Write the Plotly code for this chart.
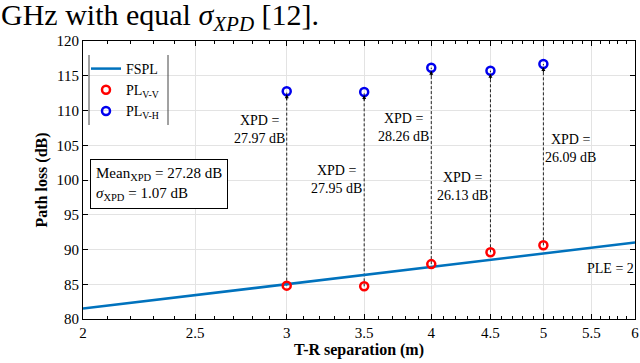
import numpy as np
import plotly.graph_objects as go

# ---- data ----
fspl_d = [2, 6]
fspl_pl = [81.5, 91.0]
dist = [3, 3.5, 4, 4.5, 5]
pl_vv = [84.8, 84.7, 87.9, 89.6, 90.6]
pl_vh = [112.77, 112.65, 116.16, 115.73, 116.69]
xpd_vals = ["27.97", "27.95", "28.26", "26.13", "26.09"]
xpd_label_y = [107.3, 100.1, 107.6, 99.0, 104.5]
xpd_label_side = ["left", "left", "left", "left", "right"]
mean_xpd = "27.28"
sigma_xpd = "1.07"
x_ticks = [2, 2.5, 3, 3.5, 4, 4.5, 5, 5.5, 6]
y_ticks = [80, 85, 90, 95, 100, 105, 110, 115, 120]

SERIF = "Liberation Serif"
BLUE_LINE = "#0072BD"

# plot-area geometry in pixels
L, R, T, B = 83, 635, 41, 319
PW, PH = R - L, B - T


def px(x):
    return (x - L) / PW


def py(y):
    return (B - y) / PH


fig = go.Figure()

# dashed XPD connectors
for d, lo, hi in zip(dist, pl_vv, pl_vh):
    fig.add_trace(go.Scatter(x=[d, d], y=[lo, hi], mode="lines",
                             line=dict(color="#222", width=1, dash="3px,2px"),
                             showlegend=False, hoverinfo="skip"))

fig.add_trace(go.Scatter(x=fspl_d, y=fspl_pl, mode="lines", name="FSPL",
                         line=dict(color=BLUE_LINE, width=2.5)))
fig.add_trace(go.Scatter(x=dist, y=pl_vv, mode="markers", name="PL<sub>V-V</sub>",
                         marker=dict(symbol="circle-open", size=8, color="red",
                                     line=dict(width=2.5, color="red"))))
fig.add_trace(go.Scatter(x=dist, y=pl_vh, mode="markers", name="PL<sub>V-H</sub>",
                         marker=dict(symbol="circle-open", size=8, color="#0000ee",
                                     line=dict(width=2.5, color="#0000ee"))))

annotations = []
# arrow heads
for d, hi in zip(dist, pl_vh):
    annotations.append(dict(x=np.log10(d), y=hi, xref="x", yref="y", text="",
                            showarrow=True, arrowhead=2, arrowsize=0.8, arrowwidth=1,
                            arrowcolor="black", ax=0, ay=10, standoff=3))
# XPD labels
for d, v, yl, side in zip(dist, xpd_vals, xpd_label_y, xpd_label_side):
    annotations.append(dict(x=np.log10(d), y=yl, xref="x", yref="y",
                            text=f"XPD =<br>{v} dB", showarrow=False,
                            xanchor="right" if side == "left" else "left",
                            align="center",
                            font=dict(family=SERIF, size=14, color="black")))
# PLE text
annotations.append(dict(x=np.log10(5.72), y=87.2, xref="x", yref="y", text="PLE = 2",
                        showarrow=False, font=dict(family=SERIF, size=14, color="black")))
# stats box
annotations.append(dict(x=px(90), y=py(159), xref="paper", yref="paper",
                        xanchor="left", yanchor="top", align="left", showarrow=False,
                        text=f"Mean<sub>XPD</sub> = {mean_xpd} dB<br><i>σ</i><sub>XPD</sub> = {sigma_xpd} dB",
                        bordercolor="black", borderwidth=1, borderpad=5, bgcolor="white",
                        font=dict(family=SERIF, size=15, color="black")))
# caption fragment
annotations.append(dict(x=px(-1), y=py(-4), xref="paper", yref="paper",
                        xanchor="left", yanchor="top", showarrow=False,
                        text="GHz with equal <i>σ</i><sub><i>XPD</i></sub> [12].",
                        font=dict(family=SERIF, size=30, color="black")))

shapes = []
for xp in [89, 168]:
    shapes.append(dict(type="line", xref="paper", yref="paper",
                       x0=px(xp), x1=px(xp), y0=py(55), y1=py(125),
                       line=dict(color="#444", width=1)))

minor_vals = [round(v, 1) for v in np.arange(2.1, 6.0, 0.1) if round(v * 10) % 5 != 0]

fig.update_layout(
    width=640, height=363,
    margin=dict(l=L, r=640 - R, t=T, b=363 - B, autoexpand=False),
    paper_bgcolor="white", plot_bgcolor="white",
    font=dict(family=SERIF, size=14, color="black"),
    showlegend=True,
    legend=dict(x=px(86), y=py(53), xanchor="left", yanchor="top",
                bgcolor="rgba(255,255,255,0)", borderwidth=0,
                font=dict(family=SERIF, size=14), itemwidth=30, tracegroupgap=0),
    annotations=annotations,
    shapes=shapes,
    xaxis=dict(type="log", range=[np.log10(2), np.log10(6)], automargin=False,
               tickvals=x_ticks, ticktext=[str(t) for t in x_ticks],
               showgrid=True, gridcolor="#e3e3e3", gridwidth=1,
               ticks="inside", ticklen=5, tickcolor="black",
               showline=True, linecolor="black", linewidth=1, mirror="ticks",
               minor=dict(tickvals=minor_vals, ticks="inside", ticklen=3, tickcolor="black",
                          showgrid=False),
               zeroline=False,
               title=dict(text="<b>T-R separation (m)</b>", font=dict(family=SERIF, size=16),
                          standoff=0),
               tickfont=dict(family=SERIF, size=15)),
    yaxis=dict(range=[80, 120], tickvals=y_ticks, automargin=False,
               showgrid=True, gridcolor="#e3e3e3", gridwidth=1,
               ticks="inside", ticklen=5, tickcolor="black",
               showline=True, linecolor="black", linewidth=1, mirror="ticks",
               zeroline=False,
               title=dict(text="<b>Path loss (dB)</b>", font=dict(family=SERIF, size=16),
                          standoff=4),
               tickfont=dict(family=SERIF, size=15)),
)

fig.write_html("out.html", config={"displayModeBar": False},
               post_script="document.body.style.margin='0px';document.body.style.padding='0px';")
